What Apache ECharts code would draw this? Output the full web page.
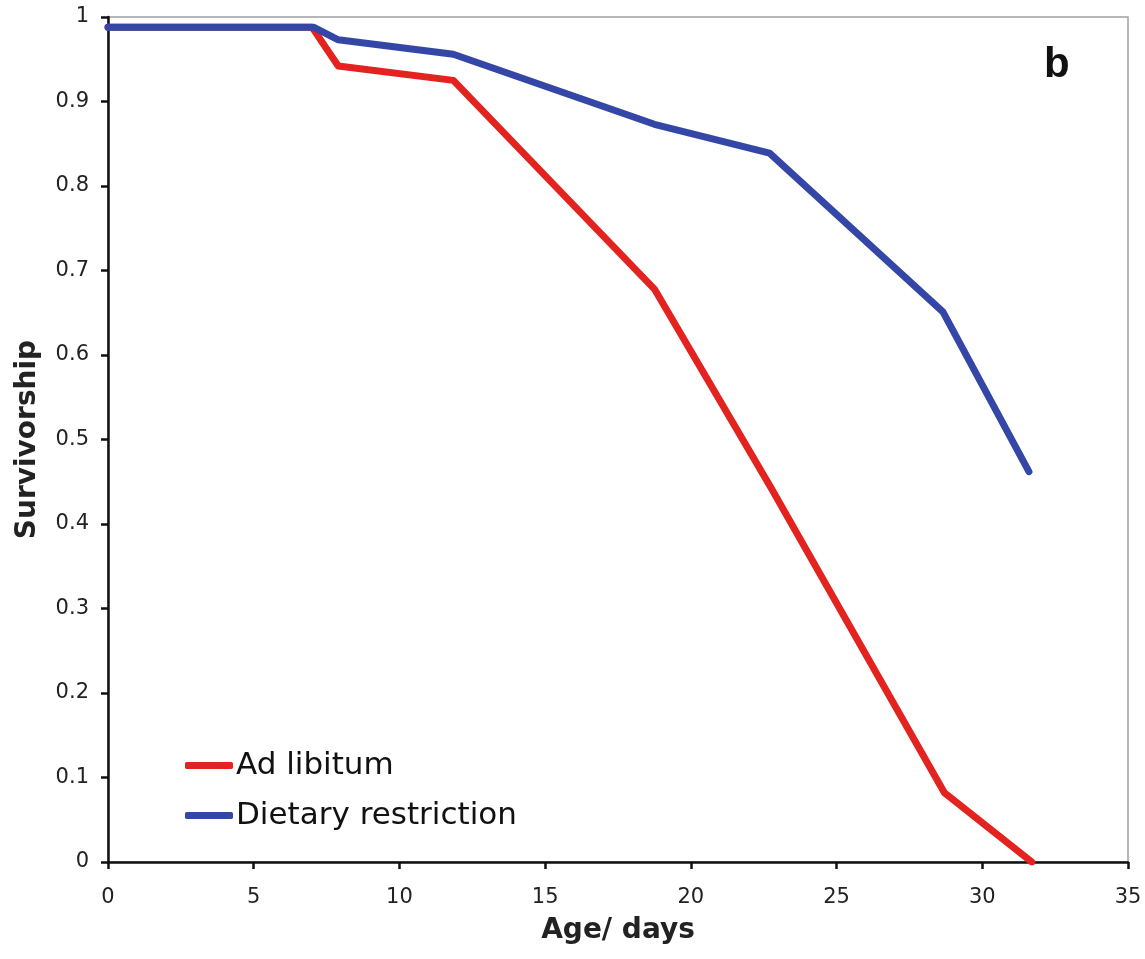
<!DOCTYPE html>
<html>
<head>
<meta charset="utf-8">
<script src="https://cdn.jsdelivr.net/npm/echarts@6/dist/echarts.min.js"></script>
<style>
  html, body { margin: 0; padding: 0; background: #fff; }
  #chart { width: 1145px; height: 959px; }
</style>
</head>
<body>
<div id="chart"></div>
<script>
// ages (days) and survivorship
var ageAdLib = [0, 7, 7.9, 11.85, 18.75, 22.75, 28.7, 31.7];
var survAdLib = [0.988, 0.988, 0.942, 0.925, 0.678, 0.443, 0.082, 0];
var ageDR = [0, 7.05, 7.9, 11.85, 18.75, 22.7, 28.65, 31.6];
var survDR = [0.988, 0.988, 0.973, 0.956, 0.873, 0.839, 0.651, 0.462];
var seriesNames = ['Ad libitum', 'Dietary restriction'];
var seriesColors = ['#e3231f', '#3447a6'];

function pairs(xs, ys) {
    var out = [];
    for (var i = 0; i < xs.length; i++) {
        out.push([xs[i], ys[i]]);
    }
    return out;
}

var chart = echarts.init(document.getElementById('chart'));

var option = {
    animation: false,
    backgroundColor: '#fff',
    grid: {
        left: 108,
        right: 17,
        top: 17,
        bottom: 97,
        show: true,
        borderColor: '#a0a0a0',
        borderWidth: 1.5,
        backgroundColor: 'transparent'
    },
    legend: {
        orient: 'vertical',
        left: 180,
        top: 745,
        itemWidth: 48,
        itemHeight: 7,
        itemGap: 19,
        icon: 'roundRect',
        textStyle: {
            fontFamily: 'DejaVu Sans',
            fontSize: 31,
            color: '#111',
            lineHeight: 31,
            padding: [0, 0, 0, -2]
        },
        data: seriesNames
    },
    xAxis: {
        type: 'value',
        min: 0,
        max: 35,
        interval: 5,
        name: 'Age/ days',
        nameLocation: 'middle',
        nameGap: 55,
        nameTextStyle: {
            fontFamily: 'DejaVu Sans',
            fontWeight: 'bold',
            fontSize: 28,
            color: '#222'
        },
        axisLine: { lineStyle: { color: '#111', width: 2.5 } },
        axisTick: { inside: false, length: 7, lineStyle: { color: '#111', width: 2.5 } },
        axisLabel: {
            margin: 25,
            fontFamily: 'DejaVu Sans',
            fontSize: 21,
            color: '#222'
        },
        splitLine: { show: false }
    },
    yAxis: {
        type: 'value',
        min: 0,
        max: 1,
        interval: 0.1,
        name: 'Survivorship',
        nameLocation: 'middle',
        nameGap: 66,
        nameRotate: 90,
        nameTextStyle: {
            fontFamily: 'DejaVu Sans',
            fontWeight: 'bold',
            fontSize: 28,
            color: '#222'
        },
        axisLine: { lineStyle: { color: '#111', width: 2.5 } },
        axisTick: { inside: false, length: 7, lineStyle: { color: '#111', width: 2.5 } },
        axisLabel: {
            margin: 19,
            fontFamily: 'DejaVu Sans',
            fontSize: 21,
            color: '#222'
        },
        splitLine: { show: false }
    },
    graphic: [
        {
            type: 'text',
            left: 1044,
            top: 44,
            style: {
                text: 'b',
                fontFamily: 'Liberation Sans',
                fontWeight: 'bold',
                fontSize: 42,
                fill: '#111'
            }
        }
    ],
    series: [
        {
            name: seriesNames[0],
            type: 'line',
            data: pairs(ageAdLib, survAdLib),
            showSymbol: false,
            symbol: 'none',
            color: seriesColors[0],
            lineStyle: { width: 7, color: seriesColors[0], cap: 'round', join: 'round' }
        },
        {
            name: seriesNames[1],
            type: 'line',
            data: pairs(ageDR, survDR),
            showSymbol: false,
            symbol: 'none',
            color: seriesColors[1],
            lineStyle: { width: 7, color: seriesColors[1], cap: 'round', join: 'round' }
        }
    ]
};

chart.setOption(option);
</script>
</body>
</html>
